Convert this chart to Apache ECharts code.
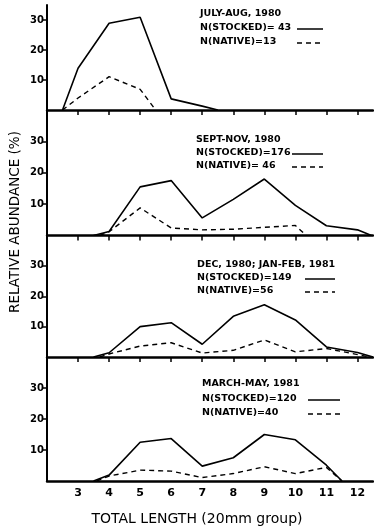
<!DOCTYPE html>
<html><head><meta charset="utf-8">
<script src="https://cdn.jsdelivr.net/npm/echarts@6/dist/echarts.min.js"></script>
<style>html,body{margin:0;padding:0;background:#fff}#c{width:374px;height:527px}</style>
</head><body><div id="c"></div>
<script>
// ---- data ----
const xTicks = [3, 4, 5, 6, 7, 8, 9, 10, 11, 12];
const yTicks = [10, 20, 30];
const panelTitles = ["JULY-AUG, 1980", "SEPT-NOV, 1980", "DEC, 1980; JAN-FEB, 1981", "MARCH-MAY, 1981"];
const stockedLabels = ["N(STOCKED)= 43", "N(STOCKED)=176", "N(STOCKED)=149", "N(STOCKED)=120"];
const nativeLabels = ["N(NATIVE)=13", "N(NATIVE)= 46", "N(NATIVE)=56", "N(NATIVE)=40"];

const julStockedX = [2.5, 3, 4, 5, 6, 7, 7.5];
const julStocked  = [0, 13.9, 28.9, 30.9, 3.7, 1.3, 0];
const julNativeX  = [2.5, 3, 4, 5, 5.5];
const julNative   = [0, 4, 11.1, 6.9, 0];

const sepStockedX = [3.5, 4, 5, 6, 7, 8, 9, 10, 11, 12, 12.45];
const sepStocked  = [0, 1.3, 15.5, 17.5, 5.6, 11.5, 18, 9.6, 3.1, 1.8, 0];
const sepNativeX  = [3.7, 4, 5, 6, 7, 8, 9, 10, 10.35];
const sepNative   = [0, 1.2, 8.8, 2.4, 1.8, 2, 2.6, 3.2, 0];

const decStockedX = [3.5, 4, 5, 6, 7, 8, 9, 10, 11, 12, 12.5];
const decStocked  = [0, 1.4, 10, 11.3, 4.2, 13.4, 17.2, 12.2, 3.3, 1.5, 0];
const decNativeX  = [3.7, 4, 5, 6, 7, 8, 9, 10, 11, 12, 12.4];
const decNative   = [0, 1, 3.6, 4.7, 1.3, 2.2, 5.6, 1.7, 2.8, 0.8, 0];

const marStockedX = [3.5, 4, 5, 6, 7, 8, 9, 10, 11, 11.5];
const marStocked  = [0, 1.9, 12.5, 13.7, 4.8, 7.5, 15, 13.3, 5.1, 0];
const marNativeX  = [3.6, 4, 5, 6, 7, 8, 9, 10, 11, 11.5];
const marNative   = [0, 1.6, 3.5, 3.2, 1.1, 2.4, 4.6, 2.4, 4.4, 0];

const stockedXs = [julStockedX, sepStockedX, decStockedX, marStockedX];
const stockedYs = [julStocked, sepStocked, decStocked, marStocked];
const nativeXs = [julNativeX, sepNativeX, decNativeX, marNativeX];
const nativeYs = [julNative, sepNative, decNative, marNative];

// ---- layout ----
const gridTops = [5, 110, 235.5, 357];
const gridHeights = [105, 125.5, 121.5, 124];
const yMaxes = [35, 40, 40, 40];
const legendPos = [
  {x: 200, y: [15, 29, 43], s: [297, 323]},
  {x: 196, y: [141, 154, 167], s: [292, 323]},
  {x: 197, y: [266, 279, 292], s: [305, 335]},
  {x: 202, y: [385, 400, 414], s: [308, 340]}
];
const FONT = '"DejaVu Sans", sans-serif';

const zip = (xs, ys) => xs.map((x, i) => [x, ys[i]]);

const grids = [], xAxes = [], yAxes = [], series = [], graphics = [];
for (let i = 0; i < 4; i++) {
  grids.push({left: 47, width: 326, top: gridTops[i], height: gridHeights[i]});
  xAxes.push({
    gridIndex: i, type: 'value', min: 2, max: 12.5,
    axisLine: {lineStyle: {color: '#000', width: 2.5}},
    axisTick: {show: i < 3, customValues: xTicks, length: 5, lineStyle: {color: '#000', width: 1.5}},
    axisLabel: {show: i === 3, customValues: xTicks, color: '#000', fontSize: 11, fontWeight: 'bold', fontFamily: FONT, margin: 7},
    splitLine: {show: false}
  });
  yAxes.push({
    gridIndex: i, type: 'value', min: 0, max: yMaxes[i],
    axisLine: {show: true, lineStyle: {color: '#000', width: 2}},
    axisTick: {show: true, customValues: yTicks, length: 5, lineStyle: {color: '#000', width: 1.5}},
    axisLabel: {customValues: yTicks, color: '#000', fontSize: 10, fontWeight: 'bold', fontFamily: FONT, margin: 3},
    splitLine: {show: false}
  });
  series.push({
    type: 'line', xAxisIndex: i, yAxisIndex: i, symbol: 'none', silent: true,
    data: zip(stockedXs[i], stockedYs[i]),
    lineStyle: {color: '#000', width: 1.6}
  });
  series.push({
    type: 'line', xAxisIndex: i, yAxisIndex: i, symbol: 'none', silent: true,
    data: zip(nativeXs[i], nativeYs[i]),
    lineStyle: {color: '#000', width: 1.4, type: [5, 4]}
  });
  const lp = legendPos[i];
  const texts = [panelTitles[i], stockedLabels[i], nativeLabels[i]];
  texts.forEach((t, k) => graphics.push({
    type: 'text', left: lp.x, top: lp.y[k] - 6,
    style: {text: t, font: 'bold 9.5px ' + FONT, fill: '#000'}
  }));
  graphics.push({type: 'line', shape: {x1: lp.s[0], y1: lp.y[1], x2: lp.s[1], y2: lp.y[1]}, style: {stroke: '#000', lineWidth: 1.5}});
  graphics.push({type: 'line', shape: {x1: lp.s[0], y1: lp.y[2], x2: lp.s[1], y2: lp.y[2]}, style: {stroke: '#000', lineWidth: 1.4, lineDash: [5, 4]}});
}
graphics.push({
  type: 'text', x: 15, y: 222, rotation: Math.PI / 2,
  style: {text: 'RELATIVE ABUNDANCE (%)', font: '13.5px ' + FONT, fill: '#000', align: 'center', verticalAlign: 'middle'}
});
graphics.push({
  type: 'text', x: 197, y: 519,
  style: {text: 'TOTAL LENGTH (20mm group)', font: '14px ' + FONT, fill: '#000', align: 'center', verticalAlign: 'middle'}
});

const chart = echarts.init(document.getElementById('c'), null, {renderer: 'canvas'});
chart.setOption({
  animation: false,
  backgroundColor: '#fff',
  grid: grids, xAxis: xAxes, yAxis: yAxes, series: series, graphic: graphics
});
</script>
</body></html>
